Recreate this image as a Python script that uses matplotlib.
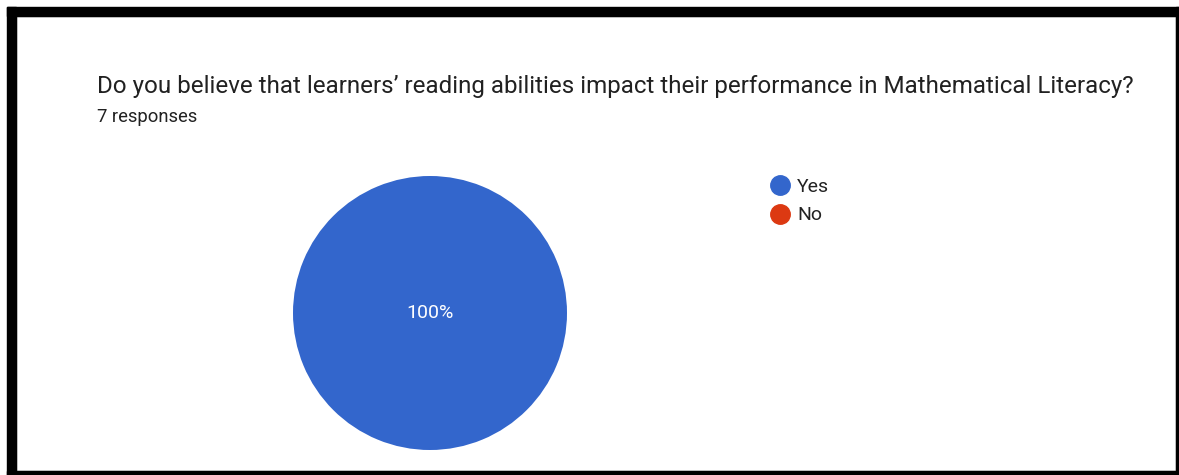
import matplotlib.pyplot as plt
from matplotlib.lines import Line2D
from matplotlib.patches import Rectangle

labels = ["Yes", "No"]
counts = [7, 0]
colors = ["#3366cc", "#dc3912"]
title = "Do you believe that learners\u2019 reading abilities impact their performance in Mathematical Literacy?"
subtitle = "7 responses"

plt.rcParams["font.family"] = ["Roboto", "DejaVu Sans"]

W, H = 1179, 475
fig = plt.figure(figsize=(W / 100, H / 100), dpi=100)
fig.patch.set_facecolor("white")


def px(x0, y0, w, h):
    # pixel box (top-left origin) -> figure fraction
    return [x0 / W, 1 - (y0 + h) / H, w / W, h / H]


# black frame like the screenshot
for box in [(7, 7, 1172, 9), (7, 7, 9, 468), (1176, 7, 3, 468), (7, 471, 1172, 4)]:
    b = px(*box)
    fig.patches.append(Rectangle(b[:2], b[2], b[3], transform=fig.transFigure,
                                 color="black", zorder=5))
b = px(16, 16, 1160, 455)
fig.patches.append(Rectangle(b[:2], b[2], b[3], transform=fig.transFigure,
                             fill=False, ec="#9e9e9e", lw=1, zorder=4))

fig.text(97 / W, 1 - 87 / H, title, fontsize=17.4, color="#212121", va="center")
fig.text(97 / W, 1 - 117 / H, subtitle, fontsize=13.2, color="#212121", va="center")

r = 137
ax = fig.add_axes(px(430 - r, 313 - r, 2 * r, 2 * r))
ax.pie(counts, colors=colors, startangle=90, counterclock=False,
       autopct=lambda p: f"{p:.0f}%" if p > 0 else "", pctdistance=0,
       textprops=dict(color="white", fontsize=14),
       wedgeprops=dict(linewidth=0))
ax.set_xlim(-1, 1)
ax.set_ylim(-1, 1)
ax.axis("off")

handles = [Line2D([], [], marker="o", ls="", color=c, markersize=14) for c in colors]
fig.legend(handles, labels, loc="upper left", bbox_to_anchor=(761 / W, 1 - 168 / H),
           frameon=False, fontsize=14, labelcolor="#222222", handletextpad=0.35,
           labelspacing=0.55, borderpad=0, handlelength=1.0)

fig.savefig("out.png", dpi=100)
